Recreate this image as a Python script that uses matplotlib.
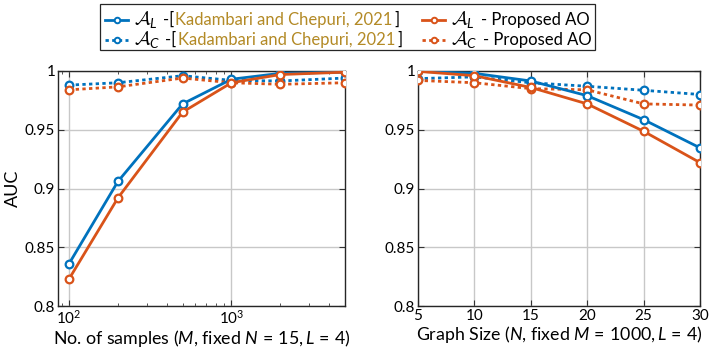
import matplotlib
matplotlib.use("Agg")
import matplotlib.pyplot as plt
from matplotlib.lines import Line2D
from matplotlib.patches import Rectangle
from matplotlib.ticker import FormatStrFormatter, FixedLocator

plt.rcParams["font.family"] = "Lato"
plt.rcParams["mathtext.fontset"] = "custom"
plt.rcParams["mathtext.rm"] = "Lato"
plt.rcParams["mathtext.it"] = "Lato:italic"
plt.rcParams["mathtext.sf"] = "Lato"
plt.rcParams["mathtext.cal"] = "cmsy10"

BLUE = "#0072BD"
ORANGE = "#D95319"
CITE = "#B38A26"

# left panel: number of samples
samples = [100, 200, 500, 1000, 2000, 5000]
al_kad_m = [0.836, 0.906, 0.972, 0.993, 0.998, 0.999]
al_ao_m = [0.823, 0.892, 0.965, 0.990, 0.997, 0.999]
ac_kad_m = [0.988, 0.990, 0.996, 0.992, 0.9915, 0.994]
ac_ao_m = [0.984, 0.9865, 0.994, 0.990, 0.9887, 0.990]

# right panel: graph size
sizes = [5, 10, 15, 20, 25, 30]
al_kad_n = [0.9997, 0.998, 0.9915, 0.979, 0.9586, 0.9346]
al_ao_n = [0.9997, 0.996, 0.986, 0.972, 0.9487, 0.922]
ac_kad_n = [0.9935, 0.995, 0.990, 0.987, 0.9836, 0.980]
ac_ao_n = [0.992, 0.990, 0.985, 0.984, 0.972, 0.971]

yticks = [0.8, 0.85, 0.9, 0.95, 1.0]

W, H = 710, 349
fig = plt.figure(figsize=(W / 100, H / 100), dpi=100)


def px_box(x0, y0, x1, y1):
    return [x0 / W, 1 - y1 / H, (x1 - x0) / W, (y1 - y0) / H]


ax1 = fig.add_axes(px_box(58, 71, 345, 306))
ax2 = fig.add_axes(px_box(418, 71, 700, 306))

solid = dict(lw=2, marker="o", ms=5.5, mew=1.6, mfc="white")
dotted = dict(lw=2, marker="o", ms=5.5, mew=1.6, mfc="white", ls=(0, (1.2, 1.2)))


def draw(ax, x, al_kad, ac_kad, al_ao, ac_ao):
    ax.plot(x, ac_kad, color=BLUE, zorder=3, **dotted)
    ax.plot(x, ac_ao, color=ORANGE, zorder=3, **dotted)
    ax.plot(x, al_kad, color=BLUE, zorder=4, **solid)
    ax.plot(x, al_ao, color=ORANGE, zorder=4, **solid)


draw(ax1, samples, al_kad_m, ac_kad_m, al_ao_m, ac_ao_m)
draw(ax2, sizes, al_kad_n, ac_kad_n, al_ao_n, ac_ao_n)

ax1.set_xscale("log")
ax1.set_xlim(85.5, 5000)
ax2.set_xlim(5, 30)
ax2.set_xticks(sizes)

for ax in (ax1, ax2):
    ax.set_ylim(0.8, 1.0)
    ax.yaxis.set_major_locator(FixedLocator(yticks))
    ax.yaxis.set_major_formatter(FormatStrFormatter("%g"))
    ax.grid(True, which="major", color="#c8c8c8", lw=1)
    ax.set_axisbelow(True)
    ax.tick_params(which="both", direction="in", top=True, right=True,
                   labelsize=11, color="#333333", pad=2)
    ax.tick_params(which="major", length=4)
    ax.tick_params(which="minor", length=2.5)
    for s in ax.spines.values():
        s.set_color("#262626")
        s.set_linewidth(1)

ax1.set_ylabel("AUC", fontsize=13, labelpad=3)
ax1.set_xlabel(r"No. of samples ($M$, fixed $N\,=\,15, L\,=\,4$)", fontsize=12.8, labelpad=1)
ax2.set_xlabel(r"Graph Size ($N$, fixed $M\,=\,1000, L\,=\,4$)", fontsize=12.8, labelpad=1)

# legend drawn by hand so the citation can be coloured
fig.add_artist(Rectangle((100 / W, 1 - 50 / H), 495 / W, 46 / H,
                         transform=fig.transFigure, facecolor="white",
                         edgecolor="#262626", lw=0.9, zorder=5))

renderer = fig.canvas.get_renderer()


def chain(x_px, y_px, parts):
    x = x_px / W
    for txt, col, gap, size in parts:
        t = fig.text(x, 1 - y_px / H, txt, color=col, fontsize=size,
                     va="baseline", ha="left", zorder=6)
        bb = t.get_window_extent(renderer)
        x += (bb.width + gap) / W


entries = [
    (BLUE, "-", 105, 25, [(r"$\mathcal{A}_L$", "black", 5, 14), ("-[", "black", 1.5, 12),
                          ("Kadambari and Chepuri, 2021", CITE, 1.5, 12), ("]", "black", 0, 12)]),
    (BLUE, ":", 105, 45, [(r"$\mathcal{A}_C$", "black", 5, 14), ("-[", "black", 1.5, 12),
                          ("Kadambari and Chepuri, 2021", CITE, 1.5, 12), ("]", "black", 0, 12)]),
    (ORANGE, "-", 422, 25, [(r"$\mathcal{A}_L$", "black", 6, 14), ("- Proposed AO", "black", 0, 12)]),
    (ORANGE, ":", 422, 45, [(r"$\mathcal{A}_C$", "black", 6, 14), ("- Proposed AO", "black", 0, 12)]),
]

for col, style, hx, base, parts in entries:
    hy = 1 - (base - 5) / H
    ls = "-" if style == "-" else (0, (1.2, 1.2))
    fig.add_artist(Line2D([hx / W, (hx + 23) / W], [hy, hy], transform=fig.transFigure,
                          color=col, lw=2, ls=ls, zorder=6))
    fig.add_artist(Line2D([(hx + 11.5) / W], [hy], transform=fig.transFigure,
                          color=col, marker="o", ms=4, mew=1.4, mfc="white", zorder=7))
    chain(hx + 29, base, parts)

fig.savefig("out.png", dpi=100)
